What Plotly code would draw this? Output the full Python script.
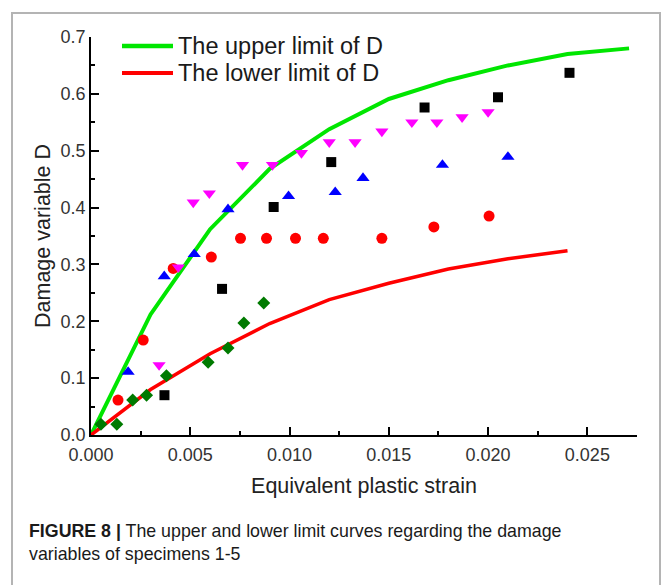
import plotly.graph_objects as go

# Upper and lower limit curves of the damage variable D
curve_strain = [0.0, 0.003, 0.006, 0.009, 0.012, 0.015, 0.018, 0.021, 0.024, 0.0271]
upper_D = [0.0, 0.212, 0.362, 0.468, 0.538, 0.591, 0.624, 0.650, 0.670, 0.680]
lower_strain = [0.0, 0.003, 0.006, 0.009, 0.012, 0.015, 0.018, 0.021, 0.024]
lower_D = [0.0, 0.080, 0.143, 0.196, 0.238, 0.267, 0.292, 0.310, 0.324]

# Specimen data (equivalent plastic strain, damage variable)
sq_x = [0.0037, 0.0066, 0.0092, 0.0121, 0.0168, 0.0205, 0.0241]
sq_y = [0.070, 0.257, 0.401, 0.480, 0.576, 0.594, 0.637]

tri_dn_x = [0.00343, 0.0044, 0.00515, 0.00596, 0.00763, 0.00914, 0.0106,
            0.0120, 0.0133, 0.01465, 0.01616, 0.01742, 0.01869, 0.0200]
tri_dn_y = [0.123, 0.295, 0.409, 0.425, 0.475, 0.475, 0.496,
            0.515, 0.515, 0.534, 0.550, 0.550, 0.559, 0.568]

tri_up_x = [0.00187, 0.00369, 0.0052, 0.0069, 0.00995, 0.0123, 0.0137, 0.0177, 0.0210]
tri_up_y = [0.111, 0.279, 0.318, 0.397, 0.420, 0.427, 0.452, 0.475, 0.489]

circ_x = [0.00136, 0.00263, 0.00414, 0.00606, 0.00753, 0.00884, 0.0103,
          0.0117, 0.01465, 0.01727, 0.02005]
circ_y = [0.0615, 0.167, 0.293, 0.313, 0.346, 0.346, 0.346,
          0.346, 0.346, 0.366, 0.385]

dia_x = [0.0005, 0.0013, 0.0021, 0.0028, 0.0038, 0.0059, 0.0069, 0.0077, 0.0087]
dia_y = [0.019, 0.019, 0.0615, 0.070, 0.104, 0.128, 0.153, 0.197, 0.232]

legend_labels = ["The upper limit of D", "The lower limit of D"]
caption_bold = "FIGURE 8 |"
caption_line1 = " The upper and lower limit curves regarding the damage"
caption_line2 = "variables of specimens 1-5"

FONT = "Liberation Sans, Arial, sans-serif"
GREEN = "#00e600"
RED = "#ff0000"

fig = go.Figure()

fig.add_trace(go.Scatter(x=curve_strain, y=upper_D, mode="lines",
                         line=dict(color=GREEN, width=4), showlegend=False))
fig.add_trace(go.Scatter(x=lower_strain, y=lower_D, mode="lines",
                         line=dict(color=RED, width=3.5), showlegend=False))

fig.add_trace(go.Scatter(x=dia_x, y=dia_y, mode="markers",
                         marker=dict(symbol="diamond", size=10, color="#007a00"), showlegend=False))
fig.add_trace(go.Scatter(x=circ_x, y=circ_y, mode="markers",
                         marker=dict(symbol="circle", size=11, color=RED), showlegend=False))
fig.add_trace(go.Scatter(x=tri_up_x, y=tri_up_y, mode="markers",
                         marker=dict(symbol="triangle-up", size=11.5, color="#0000ff"), showlegend=False))
fig.add_trace(go.Scatter(x=tri_dn_x, y=tri_dn_y, mode="markers",
                         marker=dict(symbol="triangle-down", size=11.5, color="#ff00ff"), showlegend=False))
fig.add_trace(go.Scatter(x=sq_x, y=sq_y, mode="markers",
                         marker=dict(symbol="square", size=10, color="#000000"), showlegend=False))

# Plot area geometry (pixels) for placing paper-referenced items
W, H = 664, 585
L, R, T, B = 91, 27, 37, 150
pw, ph = W - L - R, H - T - B


def px(x):
    return (x - L) / pw


def py(y):
    return (H - B - y) / ph


shapes = []
annotations = []

# Hand-drawn legend with long line samples
for i, (lab, col, lw) in enumerate(zip(legend_labels, [GREEN, RED], [4.5, 4])):
    yy = py(46 + 27 * i)
    shapes.append(dict(type="line", xref="paper", yref="paper",
                       x0=px(122), x1=px(173), y0=yy, y1=yy,
                       line=dict(color=col, width=lw)))
    annotations.append(dict(xref="paper", yref="paper", x=px(176), y=yy,
                            xanchor="left", yanchor="middle", showarrow=False,
                            text=lab, font=dict(family=FONT, size=23.5, color="#1a1a1a")))

# Outer frame
shapes.append(dict(type="rect", xref="paper", yref="paper",
                   x0=px(12), x1=px(660), y0=py(600), y1=py(13),
                   line=dict(color="#b4b4b4", width=2), layer="below"))

# Caption
annotations.append(dict(xref="paper", yref="paper", x=px(27), y=py(531),
                        xanchor="left", yanchor="middle", showarrow=False,
                        text="<b>" + caption_bold + "</b>" + caption_line1,
                        font=dict(family=FONT, size=17.8, color="#1a1a1a")))
annotations.append(dict(xref="paper", yref="paper", x=px(27), y=py(554),
                        xanchor="left", yanchor="middle", showarrow=False,
                        text=caption_line2,
                        font=dict(family=FONT, size=17.8, color="#1a1a1a")))

axis_common = dict(showline=True, linecolor="black", linewidth=1.5,
                   ticks="inside", tickcolor="black", tickwidth=1.5, ticklen=8,
                   showgrid=False, zeroline=False,
                   tickfont=dict(family=FONT, size=18, color="#333333"),
                   minor=dict(ticks="inside", ticklen=4, tickcolor="black", tickwidth=1.5))

fig.update_xaxes(range=[0, 0.0275], dtick=0.005, tickformat=".3f",
                 ticklabelstandoff=3,
                 title=dict(text="Equivalent plastic strain", standoff=14,
                            font=dict(family=FONT, size=21.5, color="#222222")),
                 **axis_common)
fig.update_xaxes(minor_dtick=0.0025)
fig.update_yaxes(range=[0, 0.7], dtick=0.1, tickformat=".1f",
                 title=dict(text="Damage variable D", standoff=4,
                            font=dict(family=FONT, size=21.5, color="#222222")),
                 **axis_common)
fig.update_yaxes(minor_dtick=0.05)

fig.update_layout(width=W, height=H,
                  margin=dict(l=L, r=R, t=T, b=B),
                  paper_bgcolor="white", plot_bgcolor="white",
                  shapes=shapes, annotations=annotations, showlegend=False)

fig.write_html("out.html")
